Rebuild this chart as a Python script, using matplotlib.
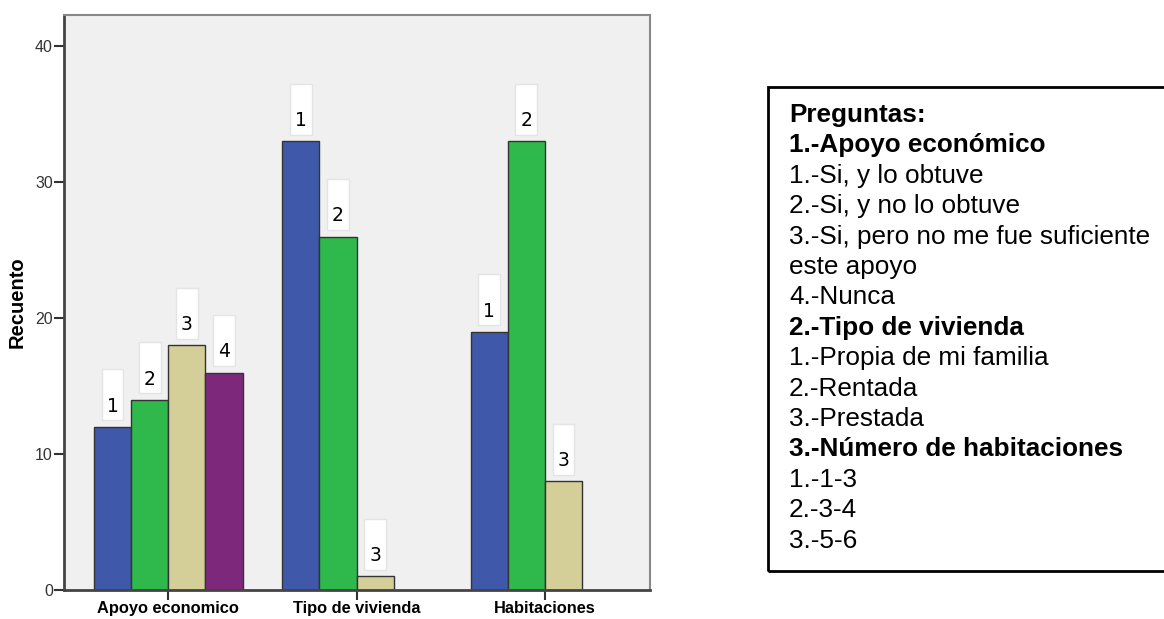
import matplotlib
matplotlib.use('Agg')
import matplotlib.pyplot as plt
from matplotlib.patches import Rectangle
import numpy as np

# data
groups = ['Apoyo economico', 'Tipo de vivienda', 'Habitaciones']
apoyo = [12, 14, 18, 16]
vivienda = [33, 26, 1]
habitaciones = [19, 33, 8]
series = [apoyo, vivienda, habitaciones]
colors = ['#3f58aa', '#2fb84b', '#d4cf98', '#7e287c']

legend_lines = ['Preguntas:', '1.-Apoyo económico', '1.-Si, y lo obtuve',
                '2.-Si, y no lo obtuve', '3.-Si, pero no me fue suficiente',
                'este apoyo', '4.-Nunca', '2.-Tipo de vivienda',
                '1.-Propia de mi familia', '2.-Rentada', '3.-Prestada',
                '3.-Número de habitaciones', '1.-1-3', '2.-3-4', '3.-5-6']
bold_lines = [0, 1, 7, 11]

W, H = 1164, 619
fig = plt.figure(figsize=(W / 100, H / 100), dpi=100)
ax = fig.add_axes([64 / W, 1 - 590 / H, (650 - 64) / W, (590 - 15) / H])
ax.set_facecolor('#f0f0f0')

w = 0.197
for gi, vals in enumerate(series):
    for bi, v in enumerate(vals):
        x = gi + (bi - 1.5) * w
        ax.bar(x, v, width=w, color=colors[bi], edgecolor='#333333',
               linewidth=1.0, zorder=2)
        ax.annotate('\n' + str(bi + 1), xy=(x, v), xytext=(0, 8),
                    textcoords='offset points', ha='center', va='bottom',
                    fontsize=13.5, family='DejaVu Sans', linespacing=1.25,
                    bbox=dict(boxstyle='square,pad=0.25', fc='white',
                              ec='#e4e4e4', lw=1.0), zorder=3)

ax.set_xlim(-0.555, 2.56)
ax.set_ylim(0, 42.3)
ax.set_yticks([0, 10, 20, 30, 40])
ax.set_xticks(range(3))
ax.set_xticklabels(groups, fontweight='bold', fontsize=11.8, family='Liberation Sans')
ax.tick_params(axis='y', labelsize=11.5, colors='#333333', length=7, width=1.5, pad=1)
ax.tick_params(axis='x', length=7, width=1.5, colors='#333333', labelcolor='black', pad=1)
for lab in ax.get_yticklabels():
    lab.set_family('Liberation Sans')
ax.set_ylabel('Recuento', fontweight='bold', fontsize=14.5, family='Liberation Sans',
              labelpad=6)

for s in ['left', 'bottom']:
    ax.spines[s].set_color('#444444')
    ax.spines[s].set_linewidth(2)
for s in ['top', 'right']:
    ax.spines[s].set_color('#888888')
    ax.spines[s].set_linewidth(1.5)

# text box on the right
fig.patches.append(Rectangle((768 / W, 1 - 571 / H), 0.5, (571 - 87) / H,
                             transform=fig.transFigure, fill=False,
                             ec='black', lw=2))
for i, line in enumerate(legend_lines):
    fig.text(789 / W, 1 - (115 + i * 30.4) / H, line, fontsize=18.8,
             family='Liberation Sans', va='center', ha='left',
             fontweight='bold' if i in bold_lines else 'normal')

fig.savefig('out.png', dpi=100)
